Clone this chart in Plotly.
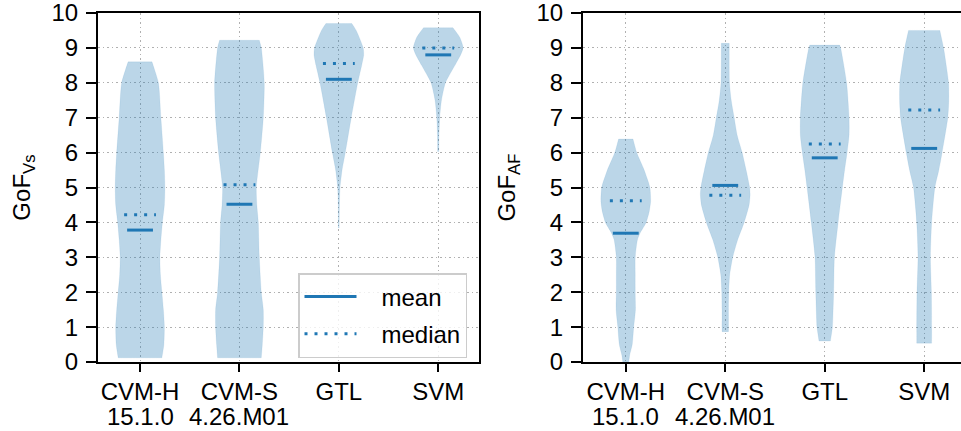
import plotly.graph_objects as go

# Category labels shared by both panels (name line and version line)
category_names = ["CVM-H", "CVM-S", "GTL", "SVM"]
category_versions = ["15.1.0", "4.26.M01", "", ""]

# ---- GoF_Vs panel ----
vs_mean = [3.78, 4.52, 8.10, 8.80]
vs_median = [4.22, 5.08, 8.55, 9.00]
vs_levels = [
    [0.12, 0.5, 1, 1.5, 2, 2.5, 3, 3.5, 4, 4.5, 5, 5.5, 6, 7, 8, 8.6],
    [0.12, 0.5, 1, 1.5, 2, 3, 4, 4.5, 5, 6, 7, 8, 9, 9.22],
    [3.84, 4.5, 5, 5.5, 6, 7, 8, 8.5, 8.8, 9, 9.5, 9.7],
    [6.03, 6.5, 7, 7.5, 8, 8.5, 8.8, 9, 9.3, 9.58],
]
vs_density = [
    [0.88, 0.96, 0.98, 0.94, 0.88, 0.82, 0.80, 0.84, 0.90, 0.98, 1.00, 0.98, 0.94, 0.84, 0.74, 0.48],
    [0.88, 0.92, 0.96, 0.96, 0.88, 0.80, 0.76, 0.70, 0.68, 0.84, 0.96, 1.00, 0.88, 0.80],
    [0.016, 0.024, 0.048, 0.13, 0.26, 0.50, 0.76, 0.92, 1.00, 0.98, 0.70, 0.52],
    [0.024, 0.032, 0.06, 0.13, 0.29, 0.67, 0.90, 1.00, 0.87, 0.59],
]

# ---- GoF_AF panel ----
af_mean = [3.69, 5.06, 5.85, 6.12]
af_median = [4.62, 4.78, 6.25, 7.22]
af_levels = [
    [0.0, 0.2, 0.5, 1, 1.5, 2, 2.5, 3, 3.5, 3.7, 4, 4.3, 4.6, 5, 5.5, 6, 6.39],
    [0.87, 1, 1.5, 2, 2.5, 3, 3.5, 4, 4.5, 4.8, 5, 5.5, 6, 6.5, 7, 7.5, 8, 9, 9.13],
    [0.6, 1, 2, 3, 4, 5, 5.5, 6, 6.5, 7, 8, 9, 9.08],
    [0.54, 1, 2, 3, 4, 5, 5.5, 6, 7, 7.5, 8, 9, 9.5],
]
af_density = [
    [0.12, 0.16, 0.26, 0.32, 0.39, 0.38, 0.38, 0.38, 0.47, 0.58, 0.82, 0.94, 1.00, 0.97, 0.74, 0.44, 0.29],
    [0.13, 0.13, 0.13, 0.14, 0.18, 0.30, 0.50, 0.76, 0.96, 1.00, 0.98, 0.84, 0.68, 0.48, 0.36, 0.24, 0.17, 0.16, 0.16],
    [0.23, 0.31, 0.36, 0.39, 0.54, 0.71, 0.80, 0.90, 0.98, 0.98, 0.88, 0.64, 0.60],
    [0.30, 0.30, 0.29, 0.25, 0.30, 0.43, 0.59, 0.72, 0.95, 0.99, 0.98, 0.78, 0.63],
]

BLUE = "#1f77b4"
FILL = "rgba(31,119,180,0.3)"
HALF_WIDTH = 0.25      # max half-width of a violin in category units
MEAN_HALF = 0.13
MEDIAN_HALF = 0.16
FONT = "Liberation Sans, Arial, sans-serif"
NB = "\u00a0"

fig = go.Figure()


def add_panel(levels, density, means, medians, xa, ya, show_legend):
    for i, (lv, dn) in enumerate(zip(levels, density)):
        # smooth flanks; corner points are doubled so the flat ends stay sharp
        right_x = [i + HALF_WIDTH * d for d in dn]
        left_x = [i - HALF_WIDTH * d for d in reversed(dn)]
        ys_right = list(lv)
        ys_left = list(reversed(lv))
        xs = ([right_x[0]] + right_x + [right_x[-1]]
              + [left_x[0]] + left_x + [left_x[-1]] + [right_x[0]])
        ys = ([ys_right[0]] + ys_right + [ys_right[-1]]
              + [ys_left[0]] + ys_left + [ys_left[-1]] + [ys_right[0]])
        fig.add_trace(go.Scatter(
            x=xs, y=ys, xaxis=xa, yaxis=ya, mode="lines",
            line=dict(color="rgba(31,119,180,0.10)", width=0.8, shape="spline", smoothing=0.6),
            fill="toself", fillcolor=FILL, showlegend=False, hoverinfo="skip",
        ))
    mx, my = [], []
    for i, m in enumerate(means):
        mx += [i - MEAN_HALF, i + MEAN_HALF, None]
        my += [m, m, None]
    fig.add_trace(go.Scatter(
        x=mx, y=my, xaxis=xa, yaxis=ya, mode="lines", name=NB * 3 + "mean",
        legendgroup="mean",
        line=dict(color=BLUE, width=3), showlegend=show_legend,
    ))
    dx, dy = [], []
    for i, m in enumerate(medians):
        dx += [i - MEDIAN_HALF, i + MEDIAN_HALF, None]
        dy += [m, m, None]
    fig.add_trace(go.Scatter(
        x=dx, y=dy, xaxis=xa, yaxis=ya, mode="lines", name=NB * 3 + "median",
        legendgroup="median",
        line=dict(color=BLUE, width=3, dash="3px,7px"), showlegend=show_legend,
    ))
    # version line printed under the category name
    for i, v in enumerate(category_versions):
        if v:
            fig.add_annotation(
                x=i, xref=xa, y=0, yref="paper", yanchor="bottom", yshift=0,
                borderpad=0, text=v, showarrow=False,
                font=dict(family=FONT, size=24, color="black"),
            )


add_panel(vs_levels, vs_density, vs_mean, vs_median, "x", "y", True)
add_panel(af_levels, af_density, af_mean, af_median, "x2", "y2", False)

W, H = 961, 431
ydom = [(H - 362) / H, (H - 13) / H]

axis_common = dict(
    showline=True, linecolor="black", linewidth=2,
    ticks="outside", tickwidth=1.6, tickcolor="black",
    showgrid=True, gridcolor="#b0b0b0", gridwidth=1, griddash="1.5px,3px",
    zeroline=False, automargin=False, ticklabeloverflow="allow",
    tickfont=dict(family=FONT, size=24, color="black"),
)

xcommon = dict(axis_common, tickmode="array", tickvals=[0, 1, 2, 3], ticktext=category_names,
               ticklen=8, ticklabelstandoff=-1)
ycommon = dict(axis_common, range=[0, 10], tickmode="array", tickvals=list(range(11)),
               domain=ydom, ticklen=10, ticklabelstandoff=3)

fig.update_layout(
    width=W, height=H,
    margin=dict(l=0, r=0, t=0, b=0),
    paper_bgcolor="white", plot_bgcolor="white",
    font=dict(family=FONT, size=24, color="black"),
    xaxis=dict(xcommon, domain=[98 / W, 479 / W], range=[-0.423, 3.41], mirror=True, anchor="y"),
    yaxis=dict(ycommon, mirror=True, anchor="x",
               title=dict(text="GoF<sub>Vs</sub>", font=dict(family=FONT, size=24), standoff=14)),
    xaxis2=dict(xcommon, domain=[583 / W, 1.0], range=[-0.43, 3.37], mirror=True, anchor="y2"),
    yaxis2=dict(ycommon, mirror=False, anchor="x2",
                title=dict(text="GoF<sub>AF</sub>", font=dict(family=FONT, size=24), standoff=14)),
    legend=dict(
        x=298 / W, y=(H - 273) / H, xanchor="left", yanchor="top",
        bgcolor="rgba(255,255,255,0.8)", bordercolor="#cccccc", borderwidth=1.5,
        font=dict(family=FONT, size=24, color="black"), itemwidth=52,
        tracegroupgap=3,
    ),
)

fig.write_html("out.html")
